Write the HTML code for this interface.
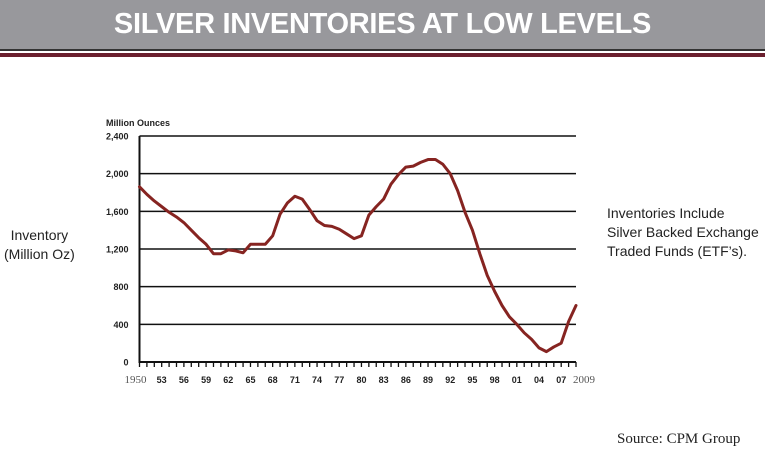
<!DOCTYPE html>
<html><head><meta charset="utf-8"><style>
body{margin:0;width:765px;height:461px;background:#fff;overflow:hidden;position:relative;font-family:"Liberation Sans",sans-serif}
.hdr{position:absolute;left:0;top:0;width:765px;height:49px;background:#98989c}
.hdr span{position:absolute;left:0;width:765px;top:8px;text-align:center;color:#fff;font-size:29px;font-weight:bold;letter-spacing:-0.3px}
.t{position:absolute;font-size:13px;color:#222}
</style></head><body>
<div class="hdr"><span>SILVER INVENTORIES AT LOW LEVELS</span></div>
<div style="position:absolute;left:0;top:49px;width:765px;height:2px;background:#333"></div>
<div style="position:absolute;left:0;top:53px;width:765px;height:4px;background:#6b1f2e"></div>
<div class="t" style="left:4px;top:226px;text-align:center;line-height:19px;font-size:14px">Inventory<br>(Million Oz)</div>
<div class="t" style="left:607px;top:204px;line-height:19px;font-size:14px">Inventories Include<br>Silver Backed Exchange<br>Traded Funds (ETF’s).</div>
<div class="t" style="left:617px;top:431px;font-family:'Liberation Serif',serif;font-size:15px">Source: CPM Group</div>
<svg id="c" width="765" height="461" style="position:absolute;left:0;top:0"></svg>
<script>
const years=[1950,1951,1952,1953,1954,1955,1956,1957,1958,1959,1960,1961,1962,1963,1964,1965,1966,1967,1968,1969,1970,1971,1972,1973,1974,1975,1976,1977,1978,1979,1980,1981,1982,1983,1984,1985,1986,1987,1988,1989,1990,1991,1992,1993,1994,1995,1996,1997,1998,1999,2000,2001,2002,2003,2004,2005,2006,2007,2008,2009];
const inventory=[1860,1780,1710,1650,1590,1540,1480,1400,1320,1250,1150,1150,1190,1180,1160,1250,1250,1250,1340,1570,1690,1760,1730,1620,1500,1450,1440,1410,1360,1310,1340,1560,1650,1730,1890,1990,2070,2080,2120,2150,2150,2100,2000,1820,1590,1400,1150,920,750,600,480,400,310,240,150,110,160,200,430,600];
const yTicks=[0,400,800,1200,1600,2000,2400];
const yTickLabels=["0","400","800","1,200","1,600","2,000","2,400"];
const xLabelYears=[1950,1953,1956,1959,1962,1965,1968,1971,1974,1977,1980,1983,1986,1989,1992,1995,1998,2001,2004,2007,2009];
const xLabels=["1950","53","56","59","62","65","68","71","74","77","80","83","86","89","92","95","98","01","04","07","2009"];
const X0=139.5,X1=576,Y0=362,Y1=136;
const x=v=>X0+(v-1950)/(2009-1950)*(X1-X0);
const y=v=>Y0-v/2400*(Y0-Y1);
const svg=document.getElementById('c');const NS='http://www.w3.org/2000/svg';
function mk(t,a){const e=document.createElementNS(NS,t);for(const k in a)e.setAttribute(k,a[k]);svg.appendChild(e);return e;}
yTicks.forEach((v,i)=>{
 const g=mk('line',{x1:X0,x2:X1,y1:y(v),y2:y(v),stroke:'#111','stroke-width':v===0?2:1.5});
 
 
 const t=mk('text',{x:X0-11,y:y(v)+3.5,'text-anchor':'end','font-size':9,'font-weight':'bold','fill':'#222','font-family':'Liberation Sans, sans-serif'});
 t.textContent=yTickLabels[i];
 
 
});
const ax=mk('line',{x1:X0,x2:X0,y1:Y1,y2:Y0+1,stroke:'#111','stroke-width':2});


years.forEach(yr=>{
 const tk=mk('line',{x1:x(yr),x2:x(yr),y1:Y0,y2:Y0+5,stroke:'#111','stroke-width':1.3});
 
 
});
xLabelYears.forEach((yr,i)=>{
 const big=xLabels[i].length===4;
 const t=mk('text',{x:x(yr)+(i===0?-4:(big?8:0)),y:383,'text-anchor':'middle','font-size':big?11:9,'font-weight':big?'normal':'bold','fill':big?'#555':'#222','font-family':big?'Liberation Serif, serif':'Liberation Sans, sans-serif'});
 t.textContent=xLabels[i];
 
 
});
const ut=mk('text',{x:106,y:126,'font-size':9,'font-weight':'bold','fill':'#222','font-family':'Liberation Sans, sans-serif'});
ut.textContent='Million Ounces';


const p=mk('polyline',{points:years.map((yr,i)=>x(yr)+','+y(inventory[i])).join(' '),fill:'none',stroke:'#862421','stroke-width':3,'stroke-linejoin':'round','stroke-linecap':'round'});


</script>
</body></html>
